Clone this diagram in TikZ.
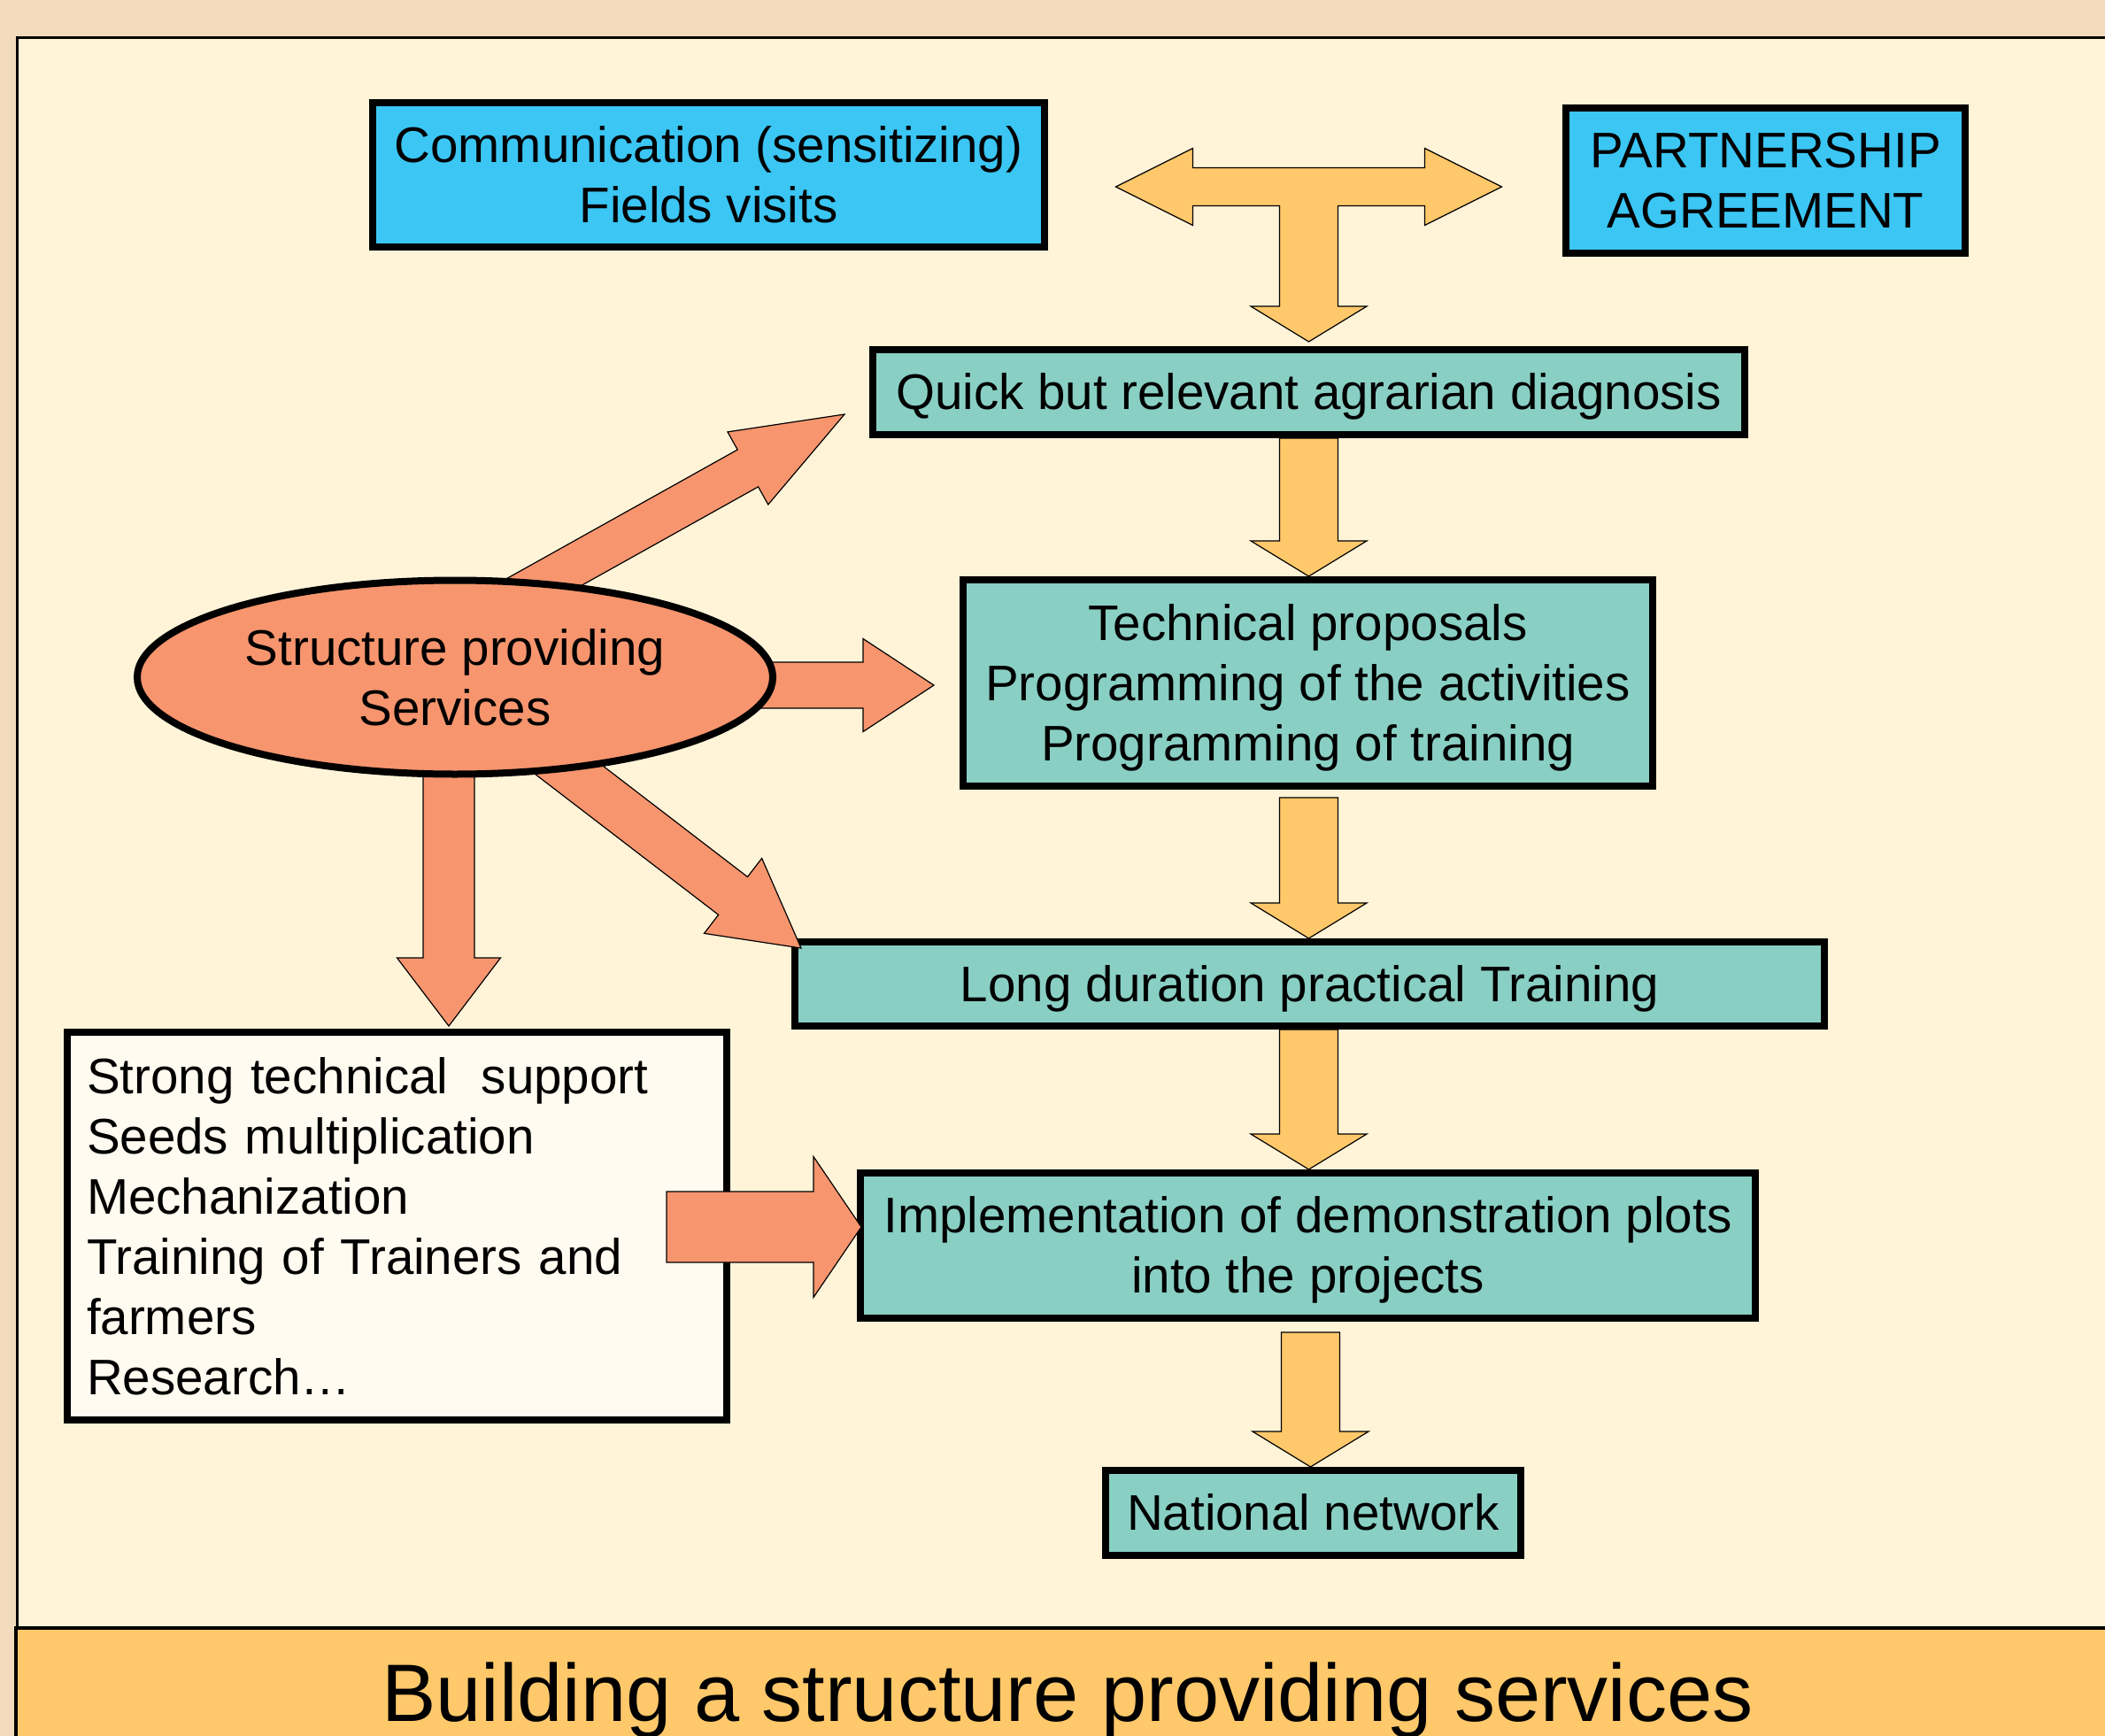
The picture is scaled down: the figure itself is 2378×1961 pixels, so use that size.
\documentclass[tikz,border=0pt]{standalone}
\usepackage{fontspec}
\setmainfont{Liberation Sans}
\usetikzlibrary{shapes,calc}

\definecolor{outertan}{HTML}{F2DCBD}
\definecolor{panelcream}{HTML}{FFF4D8}
\definecolor{bandorange}{HTML}{FEC86B}
\definecolor{skyblue}{HTML}{3BC6F4}
\definecolor{tealbox}{HTML}{89CFC4}
\definecolor{salmon}{HTML}{F6956E}
\definecolor{paperwhite}{HTML}{FFFBF0}

\newcommand{\diagfont}{\fontsize{56.5}{68}\selectfont}
\newcommand{\bannerfont}{\fontsize{92}{110}\selectfont}
\newcommand{\boxstrut}{\rule[-12pt]{0pt}{63.1pt}}

% block arrow: style, tail, tip, shaft half width, head half width, head length
\newcommand{\blockarrow}[6]{%
	\coordinate (ba-s) at #2;
	\coordinate (ba-e) at #3;
	\coordinate (ba-b) at ($(ba-e)!#6!(ba-s)$);
	\filldraw[#1] ($(ba-s)!#4!90:(ba-e)$) -- ($(ba-b)!#4!90:(ba-e)$) -- ($(ba-b)!#5!90:(ba-e)$) -- (ba-e) -- ($(ba-b)!#5!-90:(ba-e)$) -- ($(ba-b)!#4!-90:(ba-e)$) -- ($(ba-s)!#4!-90:(ba-e)$) -- cycle;
}

\begin{document}
\begin{tikzpicture}[x=1pt,y=-1pt,
		every node/.style={inner sep=0pt},
		infobox/.style={
			draw,line width=8pt,fill=skyblue,align=center,font=\diagfont
		},
		stepbox/.style={
			draw,line width=8pt,fill=tealbox,align=center,font=\diagfont,
			execute at begin node=\boxstrut,execute at end node=\boxstrut
		},
		yarrow/.style={draw=black,line width=1.2pt,fill=bandorange},
		sarrow/.style={draw=black,line width=1.2pt,fill=salmon}
		]
		\clip (0,0) rectangle (2378,1961);
		\fill[outertan] (0,0) rectangle (2378,1961);
		\filldraw[fill=panelcream,line width=3pt] (19.5,2000) rectangle (2400,42.5); % panel
		\filldraw[fill=bandorange,line width=4pt] (18,1839) rectangle (2400,2000); % band
		\node[anchor=base,font=\bannerfont] (title) at (1206,1944) {Building a structure providing services};
		
		% top row
		\node[infobox,minimum width=759pt,minimum height=163pt] (comm) at (800.5,197.5) {Communication (sensitizing)\\Fields visits};
		\node[infobox,minimum width=451pt,minimum height=164pt] (partner) at (1994.5,204) {PARTNERSHIP\\ AGREEMENT};
		
		% main column
		\node[stepbox,minimum width=985pt,minimum height=96pt] (diag) at (1478.5,443) {Quick but relevant agrarian diagnosis};
		\node[stepbox,minimum width=779pt,minimum height=233pt] (techprop) at (1477.5,771.5) {\boxstrut Technical proposals\\Programming of the activities\\Programming of training};
		\node[stepbox,minimum width=1163pt,minimum height=95pt] (longtrain) at (1479.5,1111.5) {Long duration practical Training};
		\node[stepbox,minimum width=1011pt,minimum height=164pt] (implem) at (1477.5,1407) {\boxstrut Implementation of demonstration plots\\into the projects};
		\node[stepbox,minimum width=469pt,minimum height=96pt] (natnet) at (1483.5,1709) {National network};
		
		% support list
		\node[draw,line width=8pt,fill=paperwhite,font=\diagfont,align=left,
			text width=701pt,inner xsep=22pt,minimum height=438pt] (support) at (448.5,1385)
			{Strong technical\ \ support\\Seeds multiplication\\Mechanization\\Training of Trainers and\\farmers\\Research…};
		
		% T arrow between the top boxes
		\coordinate (tee) at ($(diag.north)+(0,-180)$);
		\filldraw[yarrow,shift={(tee)}] (-218,0) -- (-131,-43.5) -- (-131,-21.5) -- (131,-21.5) -- (131,-43.5) -- (218,0)
			-- (131,43.5) -- (131,21.5) -- (33,21.5) -- (33,135) -- (65.5,135) -- (0,175) -- (-65.5,135)
			-- (-33,135) -- (-33,21.5) -- (-131,21.5) -- (-131,43.5) -- cycle;
		
		% down arrows
		\blockarrow{yarrow}{(diag.south)}{(techprop.north -| diag.south)}{33pt}{65.5pt}{40pt}
		\blockarrow{yarrow}{($(techprop.south -| diag.south)+(0,9)$)}{(longtrain.north -| diag.south)}{33pt}{65.5pt}{40pt}
		\blockarrow{yarrow}{(longtrain.south -| diag.south)}{(implem.north -| diag.south)}{33pt}{65.5pt}{40pt}
		\blockarrow{yarrow}{($(implem.south -| natnet.north)+(-3,12)$)}{($(natnet.north)+(-3,0)$)}{33pt}{65.5pt}{40pt}
		
		% arrows out of the ellipse
		\coordinate (sc) at (514,765);
		\blockarrow{sarrow}{($(sc)+(3,-53)$)}{($(diag.west)+(-28,25)$)}{24pt}{47pt}{125pt}
		\blockarrow{sarrow}{($(sc)+(186,9)$)}{($(techprop.west)+(-29,2.5)$)}{26pt}{52.5pt}{80pt}
		\blockarrow{sarrow}{($(sc)+(-7,35)$)}{($(support.north)+(58.5,-3)$)}{29pt}{58.5pt}{77pt}
		\blockarrow{sarrow}{($(sc)+(34,32)$)}{($(longtrain.north west)+(11,11)$)}{27pt}{53.5pt}{97pt}
		\node[draw,ellipse,line width=8pt,fill=salmon,font=\diagfont,align=center,
			minimum width=718pt,minimum height=219pt] (structure) at (sc) {Structure providing\\Services};
		
		\blockarrow{sarrow}{($(support.east)+(-72,1)$)}{($(implem.west)+(5,-21)$)}{40pt}{79.5pt}{54pt}
		
\end{tikzpicture}
\end{document}
